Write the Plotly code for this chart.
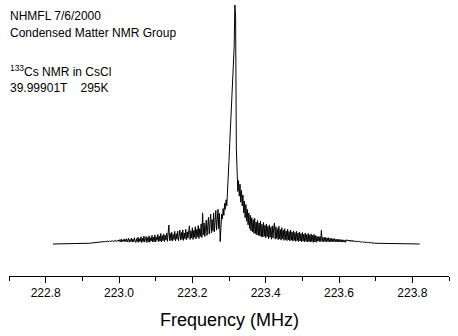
import plotly.graph_objects as go

# 133Cs NMR spectrum of CsCl, sampled every 2 kHz from 222.820 MHz
freq_start_mhz = 222.82
freq_step_mhz = 0.002

# Relative intensity (peak = 100); flat baseline outside the spectral window
intensity = (
    [0.0] * 50
    + [
        0.3, 0.35, 0.4, 0.4, 0.45, 0.5, 0.5, 0.55, 0.6, 0.6,
        0.65, 0.7, 0.7, 0.75, 0.8, 0.8, 0.85, 0.9, 0.9, 0.95,
        1.0, 0.9, 1.1, 1.0, 1.2, 0.9, 1.1, 1.3, 1.0, 1.2,
        1.1, 1.4, 1.0, 1.3, 1.2, 1.5, 1.0, 1.4, 1.2, 1.6,
        1.1, 1.8, 0.9, 2.0, 0.8, 1.7, 1.2, 2.1, 0.9, 1.5,
        2.2, 0.8, 1.7, 2.4, 0.7, 1.9, 1.1, 2.5, 0.8, 2.0,
        0.9, 2.6, 1.2, 0.6, 2.3, 1.0, 2.8, 0.7, 2.2, 1.1,
        3.0, 0.6, 2.5, 1.0, 3.3, 0.8, 2.2, 3.1, 0.6, 2.7,
        1.0, 3.4, 0.7, 2.6, 1.3, 3.6, 0.8, 2.9, 1.0, 3.8,
        0.8, 2.9, 1.5, 4.0, 1.0, 3.3, 1.2, 4.4, 0.9, 3.5,
        1.4, 4.2, 1.0, 3.6, 1.7, 4.6, 1.1, 3.8, 7.9, 1.3,
        4.4, 1.5, 4.9, 1.2, 4.0, 1.9, 5.3, 1.3, 4.3, 2.0,
        5.4, 1.4, 3.9, 5.8, 1.6, 4.8, 1.9, 5.9, 1.5, 4.6,
        2.2, 6.2, 1.7, 5.1, 2.4, 6.5, 7.6, 1.9, 5.5, 2.5,
        6.8, 1.9, 5.7, 2.8, 7.2, 2.1, 6.1, 3.0, 7.7, 2.3,
        6.4, 3.2, 8.4, 2.7, 13.0, 3.8, 8.8, 3.1, 7.4, 10.0,
        3.6, 8.6, 11.2, 4.2, 9.2, 12.5, 4.6, 10.2, 5.4, 13.0,
        5.0, 11.0, 14.0, 5.8, 12.0, 14.5, 6.4, 12.8, 1.0, 11.5,
        12.5, 10.5, 14.8, 12.0, 17.0, 14.5, 18.5, 16.0, 21.0, 25.0,
        35.0, 42.0, 50.0, 56.0, 66.0, 69.0, 77.0, 82.0, 100.0, 95.0,
        40.0, 27.0, 22.0, 26.5, 20.0, 25.0, 17.5, 22.5, 16.0, 20.5,
        13.0, 18.0, 11.0, 16.5, 9.5, 14.5, 8.0, 13.0, 6.5, 12.0,
        5.5, 11.0, 5.0, 10.2, 4.5, 10.8, 4.2, 9.2, 3.8, 9.8,
        3.6, 8.8, 3.4, 9.5, 3.0, 8.2, 2.9, 9.0, 3.2, 7.8,
        2.6, 8.4, 3.0, 7.4, 2.2, 8.0, 2.8, 7.0, 2.0, 7.6,
        2.5, 6.8, 8.8, 2.0, 7.2, 2.4, 6.4, 1.8, 7.4, 2.2,
        6.0, 1.6, 6.8, 2.1, 5.8, 1.5, 6.4, 1.9, 5.4, 1.4,
        6.1, 1.7, 5.2, 1.3, 5.8, 1.6, 5.0, 1.2, 5.5, 1.5,
        4.8, 1.1, 5.3, 1.4, 4.6, 1.0, 5.0, 1.3, 4.3, 0.9,
        4.8, 1.2, 4.1, 0.9, 4.6, 1.1, 3.9, 0.8, 4.4, 1.0,
        3.8, 0.8, 4.2, 1.0, 3.6, 0.7, 4.0, 0.9, 3.5, 0.7,
        3.3, 1.2, 3.0, 1.0, 3.1, 1.1, 5.7, 1.0, 2.8, 0.9,
        2.7, 1.0, 2.8, 0.9, 2.5, 1.0, 2.6, 0.8, 2.3, 0.9,
        2.4, 0.9, 2.2, 1.0, 2.2, 0.9, 2.0, 0.9, 1.9, 0.8,
        2.0, 0.9, 1.8, 0.8, 1.8, 0.8, 1.7, 0.8, 1.6, 0.7,
        1.8, 1.3, 1.7, 1.2, 1.6, 1.1, 1.6, 1.1, 1.5, 1.0,
        1.4, 1.0, 1.3, 0.9, 1.3, 0.9, 1.2, 0.8, 1.1, 0.8,
        1.0, 0.75, 0.95, 0.7, 0.9, 0.65, 0.8, 0.6, 0.75, 0.55,
        0.7, 0.5, 0.6, 0.45, 0.55, 0.4, 0.5, 0.35, 0.4, 0.3,
        0.3, 0.25, 0.2, 0.2, 0.15, 0.1, 0.1, 0.05, 0.05, 0.0,
    ]
    + [0.0] * 51
)
frequency = [round(freq_start_mhz + freq_step_mhz * i, 3) for i in range(len(intensity))]

tick_values = [222.8, 223.0, 223.2, 223.4, 223.6, 223.8]
tick_labels = ["222.8", "223.0", "223.2", "223.4", "223.6", "223.8"]

header_lines = [
    "NHMFL 7/6/2000",
    "Condensed Matter NMR Group",
    "<sup>133</sup>Cs NMR in CsCl",
    "39.99901T    295K",
]
header_y = [0.960, 0.897, 0.757, 0.694]

FONT = "Arial, Liberation Sans, sans-serif"

fig = go.Figure(
    go.Scatter(
        x=frequency,
        y=intensity,
        mode="lines",
        line=dict(color="black", width=1),
        hoverinfo="skip",
    )
)

for text, y in zip(header_lines, header_y):
    fig.add_annotation(
        text=text, xref="paper", yref="paper", x=-0.003, y=y,
        xanchor="left", yanchor="middle", showarrow=False,
        font=dict(family=FONT, size=12, color="black"),
    )

fig.add_annotation(
    text="Frequency (MHz)", xref="paper", yref="paper", x=0.5, y=-0.162,
    xanchor="center", yanchor="middle", showarrow=False,
    font=dict(family=FONT, size=18, color="black"),
)

fig.update_layout(
    width=458, height=336,
    margin=dict(l=9, r=9, t=5, b=60),
    paper_bgcolor="white", plot_bgcolor="white",
    showlegend=False,
    xaxis=dict(
        range=[222.7, 223.9],
        tickvals=tick_values, ticktext=tick_labels,
        ticks="outside", ticklen=6, tickcolor="black", tickwidth=1,
        minor=dict(dtick=0.1, tick0=222.7, ticks="outside", ticklen=4,
                   tickcolor="black", tickwidth=1, showgrid=False),
        showline=True, linecolor="black", linewidth=1,
        showgrid=False, zeroline=False,
        tickfont=dict(family=FONT, size=12, color="black"),
    ),
    yaxis=dict(range=[-13.4, 100], visible=False, showgrid=False, zeroline=False),
)

fig.write_html("out.html")
